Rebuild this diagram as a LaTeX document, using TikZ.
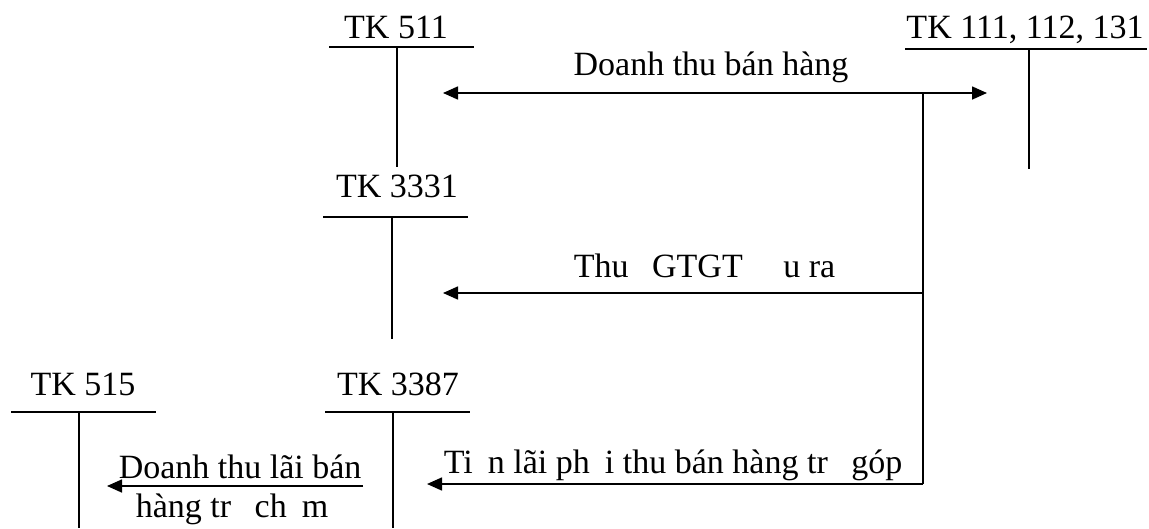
\documentclass[tikz,border=0pt]{standalone}
\usepackage{fontspec}
\setmainfont{Liberation Serif}
\usetikzlibrary{arrows.meta}
\begin{document}
\begin{tikzpicture}[x=1pt,y=-1pt,
  line width=1.6pt,
  every node/.style={inner sep=0pt,font=\fontsize{34}{40}\selectfont},
  acct/.style={anchor=base},
  lbl/.style={anchor=base west},
  flow/.style={-{Triangle[length=15pt,width=13pt]}},
  biflow/.style={{Triangle[length=15pt,width=13pt]}-{Triangle[length=15pt,width=13pt]}}]
\useasboundingbox (0,0) rectangle (1149,528);

% account titles
\node[acct] (tk511)  at (396,38)  {TK 511};
\node[acct] (tk111)  at (1025,38) {TK 111, 112, 131};
\node[acct] (tk3331) at (397,197) {TK 3331};
\node[acct] (tk515)  at (83,395)  {TK 515};
\node[acct] (tk3387) at (398,395) {TK 3387};

% T-account bars and stems
\coordinate (a511l) at (329,47);  \coordinate (a511r) at (474,47);
\coordinate (a511t) at (397,47);  \coordinate (a511b) at (397,167);
\coordinate (a111l) at (905,49);  \coordinate (a111r) at (1147,49);
\coordinate (a111t) at (1029,49); \coordinate (a111b) at (1029,169);
\coordinate (a3331l) at (323,217); \coordinate (a3331r) at (468,217);
\coordinate (a3331t) at (392,217); \coordinate (a3331b) at (392,339);
\coordinate (a515l) at (11,412);  \coordinate (a515r) at (156,412);
\coordinate (a515t) at (79,412);  \coordinate (a515b) at (79,528);
\coordinate (a3387l) at (325,412); \coordinate (a3387r) at (470,412);
\coordinate (a3387t) at (393,412); \coordinate (a3387b) at (393,528);

\foreach \k in {511,111,3331,515,3387}{
  \draw (a\k l) -- (a\k r);
  \draw (a\k t) -- (a\k b);
}

% flow lines
\coordinate (s1) at (923,93);
\coordinate (s2) at (923,293);
\coordinate (s3) at (923,484);
\coordinate (e1l) at (443,93);
\coordinate (e1r) at (987,93);
\coordinate (e2) at (443,293);
\coordinate (e3) at (427,484);
\coordinate (f4s) at (363,486);
\coordinate (f4e) at (107,486);

\draw[biflow] (e1l) -- (e1r);
\draw (s1) -- (s3);
\draw[flow] (s2) -- (e2);
\draw[flow] (s3) -- (e3);
\draw[flow] (f4s) -- (f4e);

% flow labels
\node[acct] (t1) at (711,75) {Doanh thu bán hàng};
\node[lbl] (t2) at (573,277) {Thu\phantom{ế} GTGT \phantom{đầ}u ra};
\node[lbl] (t3) at (443,473) {Ti\phantom{ề}n lãi ph\phantom{ả}i thu bán hàng tr\phantom{ả} góp};
\node[lbl] (t4) at (118,478) {Doanh thu lãi bán};
\node[lbl] (t5) at (135,517) {hàng tr\phantom{ả} ch\phantom{ậ}m};
\end{tikzpicture}
\end{document}
